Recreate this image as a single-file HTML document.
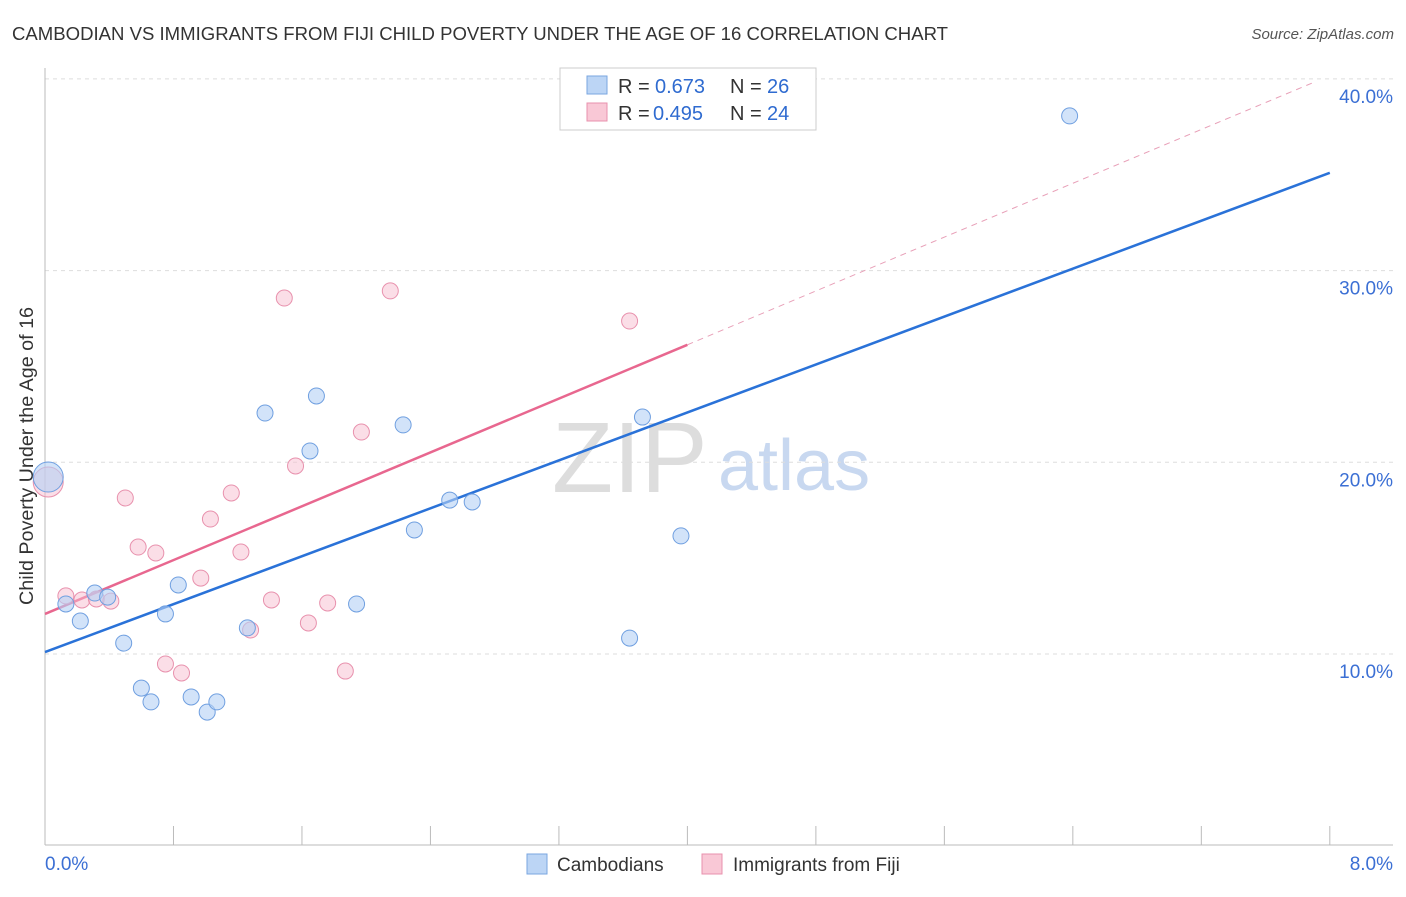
<!DOCTYPE html>
<html><head><meta charset="utf-8"><style>
body{margin:0;background:#fff;font-family:"Liberation Sans",sans-serif}
svg text{font-family:"Liberation Sans",sans-serif}
</style></head><body>
<svg id="c" width="1406" height="892" xmlns="http://www.w3.org/2000/svg">
<text x="12" y="40" font-size="18" fill="#333" textLength="936" lengthAdjust="spacingAndGlyphs">CAMBODIAN VS IMMIGRANTS FROM FIJI CHILD POVERTY UNDER THE AGE OF 16 CORRELATION CHART</text>
<text x="1394" y="39" font-size="15" fill="#555" text-anchor="end" font-style="italic">Source: ZipAtlas.com</text>
<text transform="translate(33,456) rotate(-90)" font-size="19" fill="#333" text-anchor="middle" textLength="298" lengthAdjust="spacingAndGlyphs">Child Poverty Under the Age of 16</text>
<g>
<text x="552" y="492" font-size="100" fill="#ddd" font-family="Liberation Serif">ZIP</text>
<text x="718" y="490" font-size="72" fill="#c8d8f0">atlas</text>
</g>
<g id="grid"></g><g id="axes"></g><g id="lines"></g><g id="pts"></g>
<g>
<rect x="560" y="68" width="256" height="62" fill="#fff" stroke="#ccc"/>
<rect x="587" y="76" width="20" height="18" fill="#bcd5f5" stroke="#7aa6e0"/>
<text x="618" y="93" font-size="20" fill="#333">R =</text>
<text x="655" y="93" font-size="20" fill="#2f6bd0">0.673</text>
<text x="730" y="93" font-size="20" fill="#333">N =</text>
<text x="767" y="93" font-size="20" fill="#2f6bd0">26</text>
<rect x="587" y="103" width="20" height="18" fill="#f9c8d6" stroke="#e891ad"/>
<text x="618" y="120" font-size="20" fill="#333">R =</text>
<text x="653" y="120" font-size="20" fill="#2f6bd0">0.495</text>
<text x="730" y="120" font-size="20" fill="#333">N =</text>
<text x="767" y="120" font-size="20" fill="#2f6bd0">24</text>
</g>
<g>
<rect x="527" y="854" width="20" height="20" fill="#bcd5f5" stroke="#7aa6e0"/>
<text x="557" y="871" font-size="19" fill="#333">Cambodians</text>
<rect x="702" y="854" width="20" height="20" fill="#f9c8d6" stroke="#e891ad"/>
<text x="733" y="871" font-size="19" fill="#333">Immigrants from Fiji</text>
</g>
</svg>
<script>
const yTicks=[10,20,30,40];
const yTickLabels=["10.0%","20.0%","30.0%","40.0%"];
const xTicks=[0,0.8,1.6,2.4,3.2,4,4.8,5.6,6.4,7.2,8];
const blueX=[0.02,0.13,0.22,0.31,0.39,0.49,0.60,0.66,0.75,0.83,0.91,1.01,1.07,1.26,1.37,1.65,1.69,1.94,2.23,2.30,2.52,2.66,3.64,3.72,3.96,6.38];
const blueY=[19.23,12.61,11.72,13.18,12.97,10.57,8.22,7.50,12.09,13.60,7.76,6.97,7.50,11.36,22.57,20.59,23.46,12.61,21.95,16.47,18.03,17.93,10.83,22.36,16.16,38.07];
const pinkX=[0.02,0.13,0.23,0.32,0.41,0.50,0.58,0.69,0.75,0.85,0.97,1.03,1.16,1.22,1.28,1.41,1.49,1.56,1.64,1.76,1.87,1.97,2.15,3.64];
const pinkY=[18.97,13.03,12.82,12.87,12.76,18.14,15.58,15.27,9.48,9.01,13.96,17.04,18.40,15.32,11.25,12.82,28.57,19.81,11.62,12.66,9.11,21.58,28.94,27.37];
const blueFit=[10.1,35.1]; // y at x=0 and x=8
const pinkFit=[12.09,3.51,4.0]; // intercept, slope, solid end x
const X=v=>45+v*160.6, Y=v=>654-(v-10)*19.17;
const NS="http://www.w3.org/2000/svg";
function mk(p,t,a){const e=document.createElementNS(NS,t);for(const k in a)e.setAttribute(k,a[k]);document.getElementById(p).appendChild(e);return e;}
yTicks.forEach((t,i)=>{
 const l=mk('grid','line',{x1:45,x2:1393,y1:Y(t),y2:Y(t),stroke:'#ddd','stroke-dasharray':'4,4'});
 
 
 const tx=mk('grid','text',{x:1393,y:Y(t)+24,'font-size':19,fill:'#3b6fd4','text-anchor':'end'});
 tx.textContent=yTickLabels[i];
 
 
});
let a=mk('axes','line',{x1:45,x2:45,y1:68,y2:845,stroke:'#bbb'});


a=mk('axes','line',{x1:45,x2:1393,y1:845,y2:845,stroke:'#bbb'});


xTicks.forEach(t=>{const l=mk('axes','line',{x1:X(t),x2:X(t),y1:826,y2:845,stroke:'#bbb'});
 
 });
let t0=mk('axes','text',{x:45,y:870,'font-size':19,fill:'#3b6fd4'});t0.textContent="0.0%";


let t1=mk('axes','text',{x:1393,y:870,'font-size':19,fill:'#3b6fd4','text-anchor':'end'});t1.textContent="8.0%";


let bl=mk('lines','line',{x1:X(0),y1:Y(blueFit[0]),x2:X(8),y2:Y(blueFit[1]),stroke:'#2a72d8','stroke-width':2.5});


const pmax=pinkFit[2];
let pl=mk('lines','line',{x1:X(0),y1:Y(pinkFit[0]),x2:X(pmax),y2:Y(pinkFit[0]+pinkFit[1]*pmax),stroke:'#e8678f','stroke-width':2.5});


let pd=mk('lines','line',{x1:X(pmax),y1:Y(pinkFit[0]+pinkFit[1]*pmax),x2:X(7.9),y2:Y(pinkFit[0]+pinkFit[1]*7.9),stroke:'#e8a0b8','stroke-width':1,'stroke-dasharray':'6,5'});


pinkX.forEach((x,i)=>{const c=mk('pts','circle',{cx:X(x),cy:Y(pinkY[i]),r:i==0?15:8,fill:'rgba(248,190,208,0.5)',stroke:'#e891ad','stroke-width':1});
 
 });
blueX.forEach((x,i)=>{const c=mk('pts','circle',{cx:X(x),cy:Y(blueY[i]),r:i==0?15:8,fill:'rgba(180,208,245,0.6)',stroke:'#6f9fe0','stroke-width':1});
 
 });
</script>
</body></html>
